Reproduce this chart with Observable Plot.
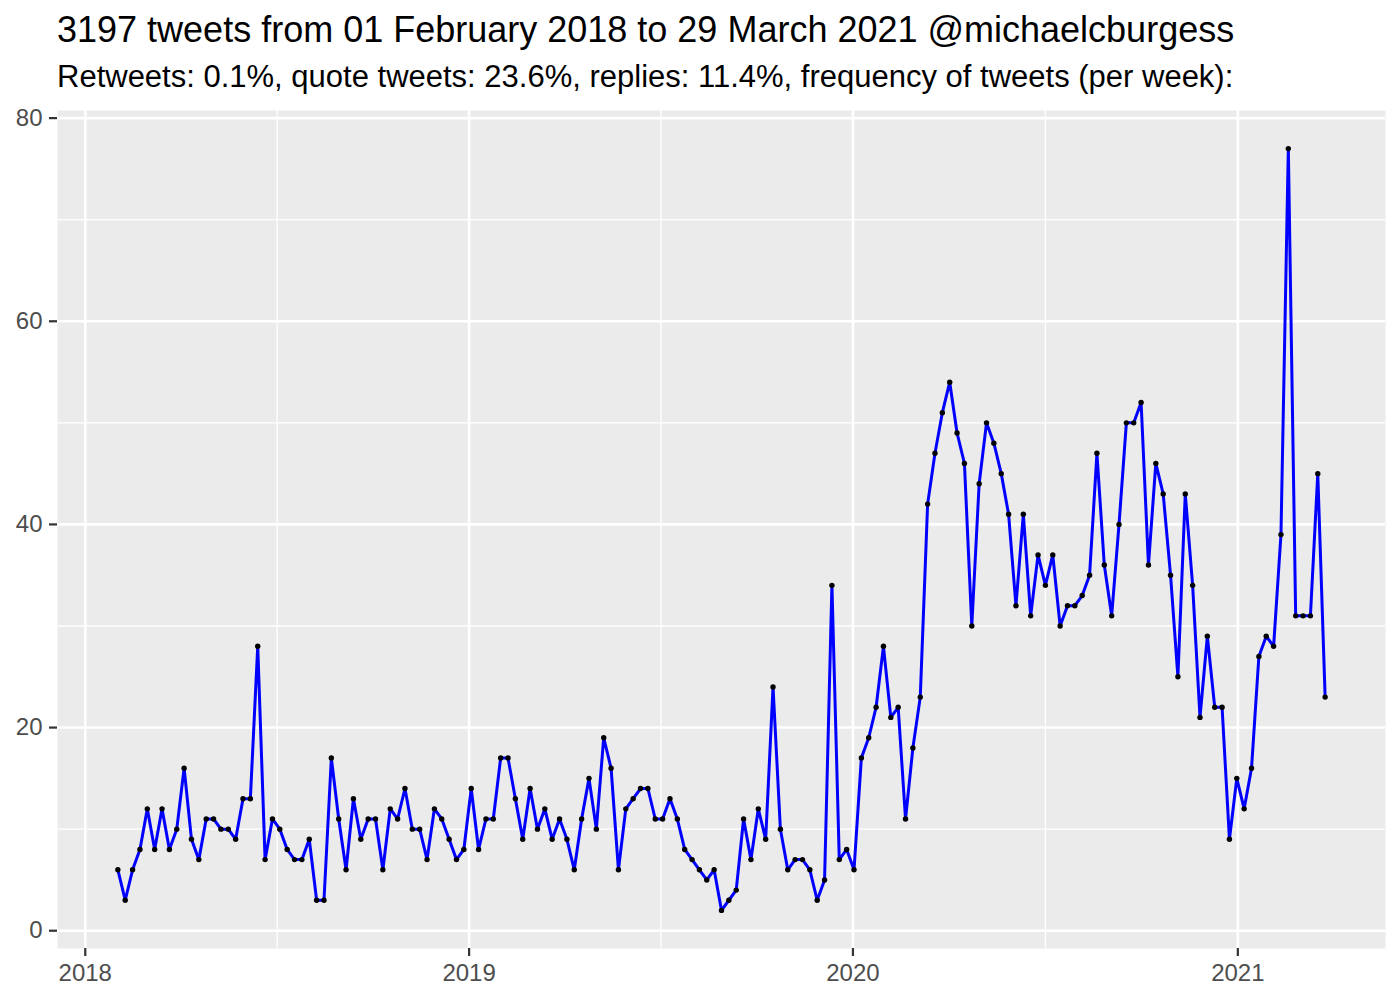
<!DOCTYPE html>
<html>
<head>
<meta charset="utf-8">
<script src="https://cdn.jsdelivr.net/npm/d3@7"></script>
<script src="https://cdn.jsdelivr.net/npm/@observablehq/plot@0.6"></script>
<style>
  body { margin: 0; background: #ffffff; font-family: "Liberation Sans", Arial, sans-serif; }
  #wrap { position: relative; width: 1400px; height: 1000px; background: #fff; }
  #head { position: relative; width: 1400px; height: 100px; }
  #title { position: absolute; left: 57px; top: 12px; font-size: 36px; line-height: 36px; color: #000; white-space: nowrap; }
  #subtitle { position: absolute; left: 57px; top: 61px; font-size: 31px; line-height: 31px; color: #000; white-space: nowrap; }
  #chart svg { display: block; }
</style>
</head>
<body>
<div id="wrap">
  <div id="head">
    <div id="title">3197 tweets from 01 February 2018 to 29 March 2021 @michaelcburgess</div>
    <div id="subtitle">Retweets: 0.1%, quote tweets: 23.6%, replies: 11.4%, frequency of tweets (per week):</div>
  </div>
  <div id="chart"></div>
</div>
<script>
// first weekly bin and weekly tweet counts
const firstWeek = "2018-02-01";
const weeklyCounts = [
  6, 3, 6, 8, 12, 8, 12, 8, 10, 16,
  9, 7, 11, 11, 10, 10, 9, 13, 13, 28,
  7, 11, 10, 8, 7, 7, 9, 3, 3, 17,
  11, 6, 13, 9, 11, 11, 6, 12, 11, 14,
  10, 10, 7, 12, 11, 9, 7, 8, 14, 8,
  11, 11, 17, 17, 13, 9, 14, 10, 12, 9,
  11, 9, 6, 11, 15, 10, 19, 16, 6, 12,
  13, 14, 14, 11, 11, 13, 11, 8, 7, 6,
  5, 6, 2, 3, 4, 11, 7, 12, 9, 24,
  10, 6, 7, 7, 6, 3, 5, 34, 7, 8,
  6, 17, 19, 22, 28, 21, 22, 11, 18, 23,
  42, 47, 51, 54, 49, 46, 30, 44, 50, 48,
  45, 41, 32, 41, 31, 37, 34, 37, 30, 32,
  32, 33, 35, 47, 36, 31, 40, 50, 50, 52,
  36, 46, 43, 35, 25, 43, 34, 21, 29, 22,
  22, 9, 15, 12, 16, 27, 29, 28, 39, 77,
  31, 31, 31, 45, 23
];
const yTicks = [0, 20, 40, 60, 80];
const yMinorTicks = [10, 30, 50, 70];
const xTickDates = ["2018-01-01", "2019-01-01", "2020-01-01", "2021-01-01"];

const start = new Date(firstWeek + "T00:00:00Z");
const data = weeklyCounts.map((n, i) => ({ date: d3.utcDay.offset(start, 7 * i), n }));

const xMajor = xTickDates.map(s => new Date(s + "T00:00:00Z"));
const xMinor = d3.pairs(xMajor).map(([a, b]) => new Date((+a + +b) / 2));

const [x0, x1] = d3.extent(data, d => d.date);
const xs = x1 - x0;
const xDomain = [new Date(+x0 - 0.05 * xs), new Date(+x1 + 0.05 * xs)];
const [y0, y1] = d3.extent(data, d => d.n);
const ys = y1 - y0;
const yDomain = [y0 - 0.05 * ys, y1 + 0.05 * ys];

const chart = Plot.plot({
  width: 1400,
  height: 900,
  marginTop: 10,
  marginBottom: 52,
  marginLeft: 57,
  marginRight: 15,
  style: { fontFamily: "'Liberation Sans', Arial, sans-serif", background: "white", overflow: "visible" },
  x: { type: "utc", domain: xDomain },
  y: { domain: yDomain },
  marks: [
    Plot.frame({ fill: "#EBEBEB", stroke: null }),
    Plot.ruleY(yMinorTicks, { stroke: "white", strokeWidth: 1.3 }),
    Plot.ruleX(xMinor, { stroke: "white", strokeWidth: 1.3 }),
    Plot.ruleY(yTicks, { stroke: "white", strokeWidth: 2.6 }),
    Plot.ruleX(xMajor, { stroke: "white", strokeWidth: 2.6 }),
    Plot.line(data, { x: "date", y: "n", stroke: "#0000FF", strokeWidth: 3 }),
    Plot.dot(data, { x: "date", y: "n", r: 2.7, fill: "black", stroke: null }),
    Plot.axisX(xMajor, {
      tickFormat: d3.utcFormat("%Y"), tickSize: 8, tickPadding: 7,
      fontSize: 24, fill: "#4D4D4D", stroke: "#333333", strokeWidth: 2.2, label: null
    }),
    Plot.axisY(yTicks, {
      tickSize: 8, tickPadding: 7,
      fontSize: 24, fill: "#4D4D4D", stroke: "#333333", strokeWidth: 2.2, label: null
    })
  ]
});
document.getElementById("chart").appendChild(chart);
</script>
</body>
</html>
